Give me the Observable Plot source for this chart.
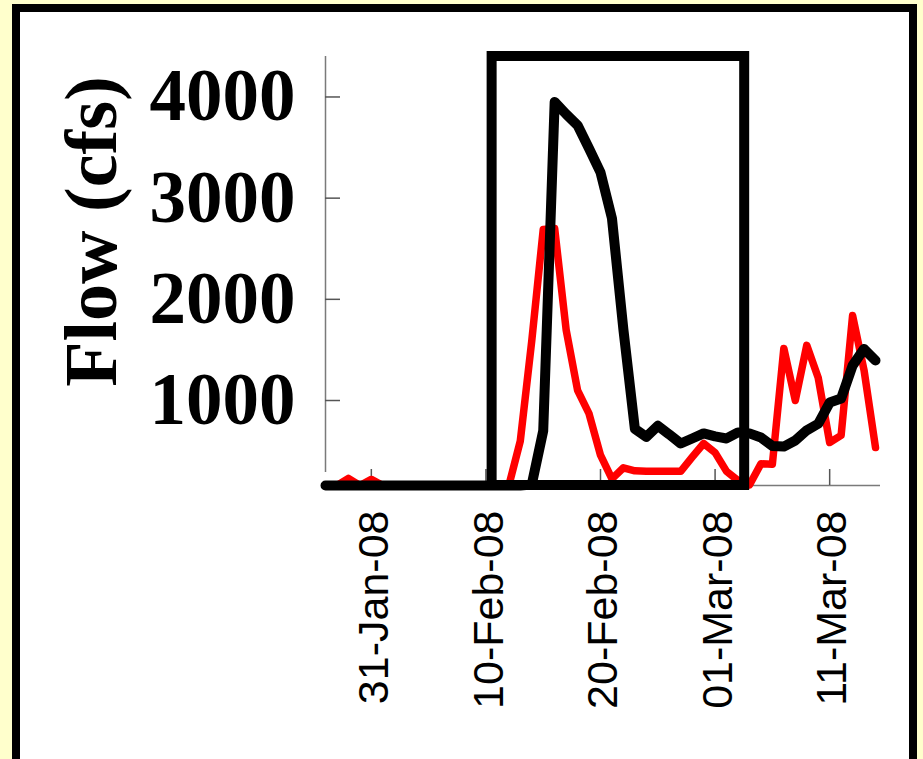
<!DOCTYPE html>
<html>
<head>
<meta charset="utf-8">
<script src="https://cdn.jsdelivr.net/npm/d3@7"></script>
<script src="https://cdn.jsdelivr.net/npm/@observablehq/plot@0.6"></script>
<style>
  html, body { margin: 0; padding: 0; width: 923px; height: 759px; overflow: hidden; background: #ffffcc; }
  #frame { position: absolute; left: 12px; top: 4px; width: 905px; height: 770px; box-sizing: border-box; border: 8px solid #000; background: #fff; }
  #chart { position: absolute; left: 0; top: 0; }
</style>
</head>
<body>
<div id="frame"></div>
<div id="chart"></div>
<script>
// Daily series, 27-Jan-2008 .. 15-Mar-2008
const firstDay = "2008-01-27";
const lastDay = "2008-03-15";
const redFlow = [
  160, 160, 230, 160, 220, 160, 160, 160, 160, 160,
  160, 160, 160, 160, 160, 160, 160, 600, 1590, 2690,
  2700, 1700, 1100, 870, 460, 225, 335, 305, 300, 300,
  300, 300, 440, 575, 485, 300, 210, 165, 375, 370,
  1515, 1000, 1545, 1225, 585, 655, 1840, 1300, 535
];
const blackFlow = [
  160, 160, 160, 160, 160, 160, 160, 160, 160, 160,
  160, 160, 160, 160, 160, 160, 160, 160, 170, 700,
  3950, 3830, 3720, 3490, 3255, 2800, 1700, 720, 640, 750,
  665, 575, 625, 675, 645, 625, 685, 675, 635, 550,
  545, 605, 705, 770, 980, 1020, 1345, 1510, 1395
];
const yTicks = [1000, 2000, 3000, 4000];
const xTicks = ["2008-01-31", "2008-02-10", "2008-02-20", "2008-03-01", "2008-03-11"];
const yMin = 160;
const yMax = 4400;
const highlightStart = "2008-02-10T13:00:00Z";
const highlightEnd = "2008-03-03T14:00:00Z";
const yLabel = "Flow (cfs)";

const dates = d3.utcDays(new Date(firstDay), d3.utcDay.offset(new Date(lastDay), 1));
const red = dates.map((d, i) => ({date: d, flow: redFlow[i]}));
const black = dates.map((d, i) => ({date: d, flow: blackFlow[i]}));
const xTickDates = xTicks.map(s => new Date(s));
const highlight = [{x1: new Date(highlightStart), x2: new Date(highlightEnd), y1: yMin, y2: yMax}];
const d0 = dates[0];

const chart = Plot.plot({
  width: 923,
  height: 759,
  marginLeft: 325,
  marginRight: 48,
  marginTop: 56,
  marginBottom: 274,
  style: {background: "transparent", color: "#000", overflow: "visible"},
  x: {type: "utc", domain: [dates[0], dates[dates.length - 1]], axis: null},
  y: {domain: [yMin, yMax], axis: null},
  marks: [
    // axis lines & ticks
    Plot.ruleY([yMin], {stroke: "#7a7a7a", strokeWidth: 1.5, insetRight: -5}),
    Plot.ruleX([d0], {y1: yMax, y2: yMin, insetBottom: 13, stroke: "#7a7a7a", strokeWidth: 1.5}),
    Plot.ruleY(yTicks, {y: d => d, x1: d0, x2: d0, insetRight: -15, stroke: "#555", strokeWidth: 1.5}),
    Plot.ruleX(xTickDates, {x: d => d, y1: yMin, y2: yMin, insetBottom: 16, stroke: "#555", strokeWidth: 1.5}),
    Plot.axisY(yTicks, {
      tickSize: 0, tickPadding: 30, fontSize: 73, fontWeight: "bold",
      fontFamily: "Liberation Serif, Times New Roman, serif", label: null, fill: "#000",
      tickFormat: d3.format("d")
    }),
    Plot.axisX(xTickDates, {
      tickRotate: -90, tickSize: 0, tickPadding: 25, fontSize: 43, dx: 3,
      fontFamily: "Liberation Sans, Arial, sans-serif", label: null, fill: "#000",
      tickFormat: d3.utcFormat("%d-%b-%y")
    }),
    Plot.line(red, {x: "date", y: "flow", stroke: "#ff0000", strokeWidth: 7.5}),
    Plot.line(black, {x: "date", y: "flow", stroke: "#000000", strokeWidth: 10}),
    Plot.rect(highlight, {x1: "x1", x2: "x2", y1: "y1", y2: "y2", fill: "none", stroke: "#000", strokeWidth: 10}),
    Plot.text([yLabel], {
      text: d => d, frameAnchor: "top-left", dx: -262, dy: 175, rotate: -90,
      fontSize: 74, fontWeight: "bold", fontFamily: "Liberation Serif, Times New Roman, serif",
      fill: "#000", textAnchor: "middle"
    })
  ]
});
document.getElementById("chart").appendChild(chart);
</script>
</body>
</html>
